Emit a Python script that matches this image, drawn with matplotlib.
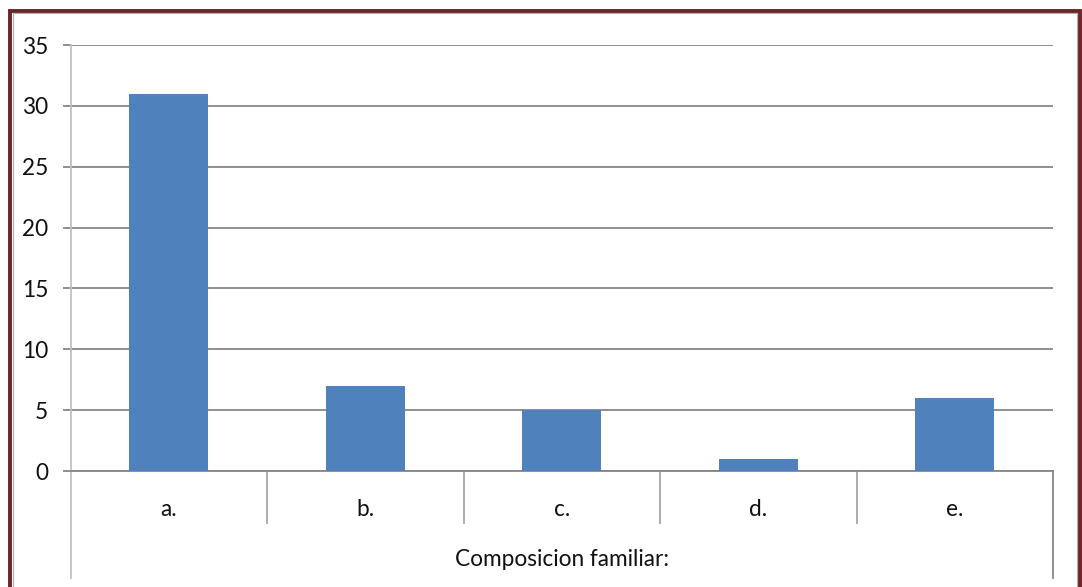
import matplotlib
matplotlib.use("Agg")
import matplotlib.pyplot as plt
from matplotlib.patches import Rectangle
from matplotlib.lines import Line2D
import matplotlib.transforms as mtransforms

categories = ["a.", "b.", "c.", "d.", "e."]
values = [31, 7, 5, 1, 6]
y_ticks = [0, 5, 10, 15, 20, 25, 30, 35]
axis_title = "Composicion familiar:"

W, H = 1082, 587
fig = plt.figure(figsize=(W / 100, H / 100), dpi=100)
fig.patch.set_facecolor("white")

FONT = ["Lato", "DejaVu Sans"]
FS = 16.3

# plot area in pixel coordinates
x0, x1 = 70.5, 1053
y_top, y_zero = 45, 471
ax = fig.add_axes([x0 / W, (H - y_zero) / H, (x1 - x0) / W, (y_zero - y_top) / H])

ax.bar(range(len(categories)), values, width=0.4, color="#4f81bd", zorder=3)
ax.set_xlim(-0.5, len(categories) - 0.5)
ax.set_ylim(0, 35)
ax.set_yticks(y_ticks)
ax.set_yticklabels([str(v) for v in y_ticks], fontsize=FS, family=FONT, color="#111111")
ax.yaxis.grid(True, color="#868686", linewidth=1.3, zorder=0)
ax.tick_params(axis="y", length=6, width=1.3, color="#868686", pad=10)
ax.set_xticks([])
for side in ("top", "right"):
    ax.spines[side].set_visible(False)
ax.spines["left"].set_color("#c0c0c0")
ax.spines["left"].set_linewidth(1.3)
ax.spines["bottom"].set_color("#868686")
ax.spines["bottom"].set_linewidth(1.3)

# category axis area below the plot
trans = mtransforms.blended_transform_factory(ax.transData, ax.transAxes)
axes_h = y_zero - y_top
sep_depth = -(523 - y_zero) / axes_h
outer_depth = -(578 - y_zero) / axes_h
for i in range(1, len(categories)):
    ax.add_line(Line2D([i - 0.5, i - 0.5], [0, sep_depth], transform=trans,
                       color="#a6a6a6", linewidth=1.3, clip_on=False))
ax.add_line(Line2D([-0.5, -0.5], [0, outer_depth], transform=trans,
                   color="#c0c0c0", linewidth=1.3, clip_on=False))
ax.add_line(Line2D([len(categories) - 0.5] * 2, [0, outer_depth], transform=trans,
                   color="#868686", linewidth=1.3, clip_on=False))

label_y = -(509 - y_zero) / axes_h
for i, c in enumerate(categories):
    ax.text(i, label_y, c, transform=trans, ha="center", va="center",
            fontsize=FS, family=FONT, color="#111111")
ax.text(2, -(559 - y_zero) / axes_h, axis_title, transform=trans, ha="center",
        va="center", fontsize=FS, family=FONT, color="#111111")

# chart frame
fig.patches.append(Rectangle((10 / W, -0.1), (1079.5 - 10) / W, (H - 10.5) / H + 0.1,
                             transform=fig.transFigure, fill=False,
                             edgecolor="#6b2428", linewidth=2.8))
fig.patches.append(Rectangle((13 / W, -0.1), (1076.5 - 13) / W, (H - 13) / H + 0.1,
                             transform=fig.transFigure, fill=False,
                             edgecolor="#b0b0b0", linewidth=0.8))

fig.savefig("out.png", dpi=100, facecolor="white")
